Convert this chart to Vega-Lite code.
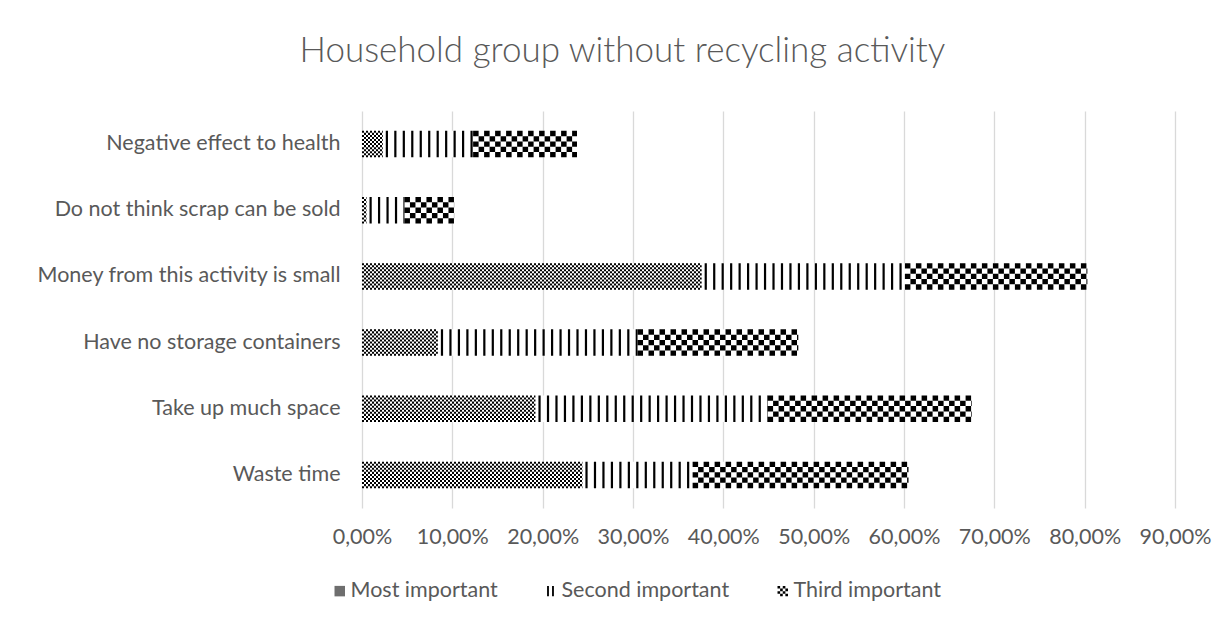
{
  "$schema": "https://vega.github.io/schema/vega-lite/v6.json",
  "width": 813,
  "height": 397,
  "autosize": "none",
  "padding": {"left": 362, "top": 111, "right": 54, "bottom": 116},
  "background": "white",
  "config": {"view": {"stroke": null}, "font": "Lato"},
  "title": {
    "text": "Household group without recycling activity",
    "font": "Lato",
    "fontSize": 35,
    "fontWeight": 300,
    "color": "#595959",
    "anchor": "middle",
    "baseline": "alphabetic",
    "offset": 14,
    "dx": -146
  },
  "data": {
    "values": [
      {"cat": "Negative effect to health", "level": "Most important", "value": 0.023},
      {"cat": "Negative effect to health", "level": "Second important", "value": 0.100},
      {"cat": "Negative effect to health", "level": "Third important", "value": 0.115},
      {"cat": "Do not think scrap can be sold", "level": "Most important", "value": 0.005},
      {"cat": "Do not think scrap can be sold", "level": "Second important", "value": 0.042},
      {"cat": "Do not think scrap can be sold", "level": "Third important", "value": 0.055},
      {"cat": "Money from this activity is small", "level": "Most important", "value": 0.376},
      {"cat": "Money from this activity is small", "level": "Second important", "value": 0.225},
      {"cat": "Money from this activity is small", "level": "Third important", "value": 0.202},
      {"cat": "Have no storage containers", "level": "Most important", "value": 0.084},
      {"cat": "Have no storage containers", "level": "Second important", "value": 0.221},
      {"cat": "Have no storage containers", "level": "Third important", "value": 0.178},
      {"cat": "Take up much space", "level": "Most important", "value": 0.192},
      {"cat": "Take up much space", "level": "Second important", "value": 0.257},
      {"cat": "Take up much space", "level": "Third important", "value": 0.226},
      {"cat": "Waste time", "level": "Most important", "value": 0.244},
      {"cat": "Waste time", "level": "Second important", "value": 0.122},
      {"cat": "Waste time", "level": "Third important", "value": 0.239}
    ]
  },
  "transform": [
    {"stack": "value", "groupby": ["cat"], "sort": [{"field": "level", "order": "ascending"}], "as": ["x0", "x1"]}
  ],
  "encoding": {
    "y": {
      "field": "cat",
      "type": "nominal",
      "sort": ["Negative effect to health", "Do not think scrap can be sold", "Money from this activity is small", "Have no storage containers", "Take up much space", "Waste time"],
      "scale": {"paddingInner": 0.6, "paddingOuter": 0.3},
      "title": null,
      "axis": {"domain": false, "ticks": false, "grid": false, "labelPadding": 22, "labelFontSize": 21.5, "labelColor": "#595959", "labelFont": "Lato", "labelLimit": 400}
    },
    "x": {
      "field": "x0",
      "type": "quantitative",
      "scale": {"domain": [0, 0.9], "nice": false, "zero": true},
      "title": null,
      "axis": {
        "values": [0, 0.1, 0.2, 0.3, 0.4, 0.5, 0.6, 0.7, 0.8, 0.9],
        "labelExpr": "replace(format(datum.value, '.2%'), '.', ',')",
        "grid": true, "gridColor": "#d9d9d9", "gridWidth": 1.3,
        "domain": false, "ticks": false,
        "labelPadding": 18, "labelFontSize": 21.5, "labelColor": "#595959", "labelFont": "Lato",
        "labelFlush": false, "labelOverlap": false
      }
    },
    "x2": {"field": "x1"}
  },
  "layer": [
    {
      "mark": {"type": "bar"},
      "encoding": {
        "color": {
          "field": "level",
          "type": "nominal",
          "condition": {"test": "true", "value": "white"},
          "scale": {"domain": ["Most important", "Second important", "Third important"], "range": ["#6e6e6e", "#000000", "#000000"]},
          "legend": {
            "title": null,
            "orient": "none",
            "direction": "horizontal",
            "legendX": -33,
            "legendY": 469,
            "labelFontSize": 21.5,
            "labelColor": "#595959",
            "labelFont": "Lato",
            "labelLimit": 400,
            "labelOffset": 0,
            "columnPadding": 42,
            "symbolSize": 110,
            "symbolStrokeWidth": 0,
            "encode": {
              "symbols": {
                "update": {
                  "shape": {"signal": "datum.value === 'Second important' ? 'M-0.7,-1H-0.35V1H-0.7Z M0.25,-1H0.6V1H0.25Z' : datum.value === 'Third important' ? 'M-1,-1h0.5v0.5h-0.5z M0,-1h0.5v0.5h-0.5z M-0.5,-0.5h0.5v0.5h-0.5z M0.5,-0.5h0.5v0.5h-0.5z M-1,0h0.5v0.5h-0.5z M0,0h0.5v0.5h-0.5z M-0.5,0.5h0.5v0.5h-0.5z M0.5,0.5h0.5v0.5h-0.5z' : 'square'"}
                }
              }
            }
          }
        }
      }
    },
    {
      "transform": [{"filter": "datum.level === 'Second important'"}],
      "mark": {"type": "rule", "color": "black", "strokeWidth": 26.5, "strokeDash": [2.2, 6.27], "strokeDashOffset": -3}
    },
    {
      "transform": [{"filter": "datum.level === 'Third important'"}],
      "layer": [
        {"mark": {"type": "rule", "color": "black", "strokeWidth": 5.3, "strokeDash": [5.5, 5.5], "strokeDashOffset": 0, "yOffset": -10.6}},
        {"mark": {"type": "rule", "color": "black", "strokeWidth": 5.3, "strokeDash": [5.5, 5.5], "strokeDashOffset": 5.5, "yOffset": -5.3}},
        {"mark": {"type": "rule", "color": "black", "strokeWidth": 5.3, "strokeDash": [5.5, 5.5], "strokeDashOffset": 0, "yOffset": 0}},
        {"mark": {"type": "rule", "color": "black", "strokeWidth": 5.3, "strokeDash": [5.5, 5.5], "strokeDashOffset": 5.5, "yOffset": 5.3}},
        {"mark": {"type": "rule", "color": "black", "strokeWidth": 5.3, "strokeDash": [5.5, 5.5], "strokeDashOffset": 0, "yOffset": 10.6}}
      ]
    },
    {
      "transform": [{"filter": "datum.level === 'Most important'"}],
      "layer": [
        {"mark": {"type": "rule", "color": "black", "strokeWidth": 2.04, "strokeDash": [2, 2], "strokeDashOffset": 0, "yOffset": -12.24}},
        {"mark": {"type": "rule", "color": "black", "strokeWidth": 2.04, "strokeDash": [2, 2], "strokeDashOffset": 2, "yOffset": -10.2}},
        {"mark": {"type": "rule", "color": "black", "strokeWidth": 2.04, "strokeDash": [2, 2], "strokeDashOffset": 0, "yOffset": -8.16}},
        {"mark": {"type": "rule", "color": "black", "strokeWidth": 2.04, "strokeDash": [2, 2], "strokeDashOffset": 2, "yOffset": -6.12}},
        {"mark": {"type": "rule", "color": "black", "strokeWidth": 2.04, "strokeDash": [2, 2], "strokeDashOffset": 0, "yOffset": -4.08}},
        {"mark": {"type": "rule", "color": "black", "strokeWidth": 2.04, "strokeDash": [2, 2], "strokeDashOffset": 2, "yOffset": -2.04}},
        {"mark": {"type": "rule", "color": "black", "strokeWidth": 2.04, "strokeDash": [2, 2], "strokeDashOffset": 0, "yOffset": 0}},
        {"mark": {"type": "rule", "color": "black", "strokeWidth": 2.04, "strokeDash": [2, 2], "strokeDashOffset": 2, "yOffset": 2.04}},
        {"mark": {"type": "rule", "color": "black", "strokeWidth": 2.04, "strokeDash": [2, 2], "strokeDashOffset": 0, "yOffset": 4.08}},
        {"mark": {"type": "rule", "color": "black", "strokeWidth": 2.04, "strokeDash": [2, 2], "strokeDashOffset": 2, "yOffset": 6.12}},
        {"mark": {"type": "rule", "color": "black", "strokeWidth": 2.04, "strokeDash": [2, 2], "strokeDashOffset": 0, "yOffset": 8.16}},
        {"mark": {"type": "rule", "color": "black", "strokeWidth": 2.04, "strokeDash": [2, 2], "strokeDashOffset": 2, "yOffset": 10.2}},
        {"mark": {"type": "rule", "color": "black", "strokeWidth": 2.04, "strokeDash": [2, 2], "strokeDashOffset": 0, "yOffset": 12.24}}
      ]
    }
  ]
}
